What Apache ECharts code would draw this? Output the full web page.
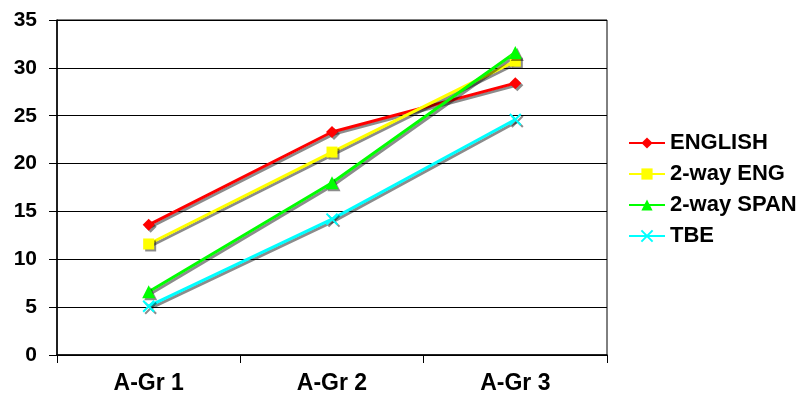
<!DOCTYPE html>
<html>
<head>
<meta charset="utf-8">
<script src="https://cdn.jsdelivr.net/npm/echarts@6/dist/echarts.min.js"></script>
<style>html,body{margin:0;padding:0;background:#fff}#c{width:809px;height:405px}</style>
</head>
<body>
<div id="c"></div>
<script>
var categories = ['A-Gr 1', 'A-Gr 2', 'A-Gr 3'];
var seriesNames = ['ENGLISH', '2-way ENG', '2-way SPAN', 'TBE'];
var english = [13.6, 23.3, 28.4];
var twoWayEng = [11.6, 21.2, 30.7];
var twoWaySpan = [6.6, 18.0, 31.6];
var tbe = [5.1, 14.2, 24.6];
var yTicks = [0, 5, 10, 15, 20, 25, 30, 35];

var FONT = '"Liberation Sans", Arial, sans-serif';
var shadow = {shadowColor: 'rgba(0,0,0,0.45)', shadowOffsetX: 2, shadowOffsetY: 2, shadowBlur: 0};
function mk(name, data, color, symbol, size) {
  return {
    name: name, type: 'line', data: data,
    symbol: symbol, symbolSize: size,
    lineStyle: Object.assign({color: color, width: 3}, shadow),
    itemStyle: Object.assign({color: color, borderColor: color, borderWidth: symbol.indexOf('path') === 0 ? 2 : 0}, shadow),
    emphasis: {disabled: true},
    animation: false
  };
}
var chart = echarts.init(document.getElementById('c'));
chart.setOption({
  animation: false,
  grid: {left: 57, right: 202, top: 20, bottom: 50, show: true, borderColor: '#000', borderWidth: 1, backgroundColor: 'transparent'},
  legend: {
    orient: 'vertical', left: 623, top: 127,
    itemWidth: 36, itemHeight: 14, itemGap: 9,
    textStyle: {fontFamily: FONT, fontWeight: 'bold', fontSize: 22, color: '#000', lineHeight: 22},
    data: seriesNames
  },
  xAxis: {
    type: 'category', data: categories, boundaryGap: true,
    axisLine: {lineStyle: {color: '#000', width: 1.5}},
    axisTick: {show: true, length: 8, lineStyle: {color: '#000'}, alignWithLabel: false},
    axisLabel: {fontFamily: FONT, fontWeight: 'bold', fontSize: 23, color: '#000', margin: 17},
    splitLine: {show: false}
  },
  yAxis: {
    type: 'value', min: yTicks[0], max: yTicks[yTicks.length - 1], interval: 5,
    axisLine: {show: true, lineStyle: {color: '#000', width: 1.5}},
    axisTick: {show: true, length: 8, lineStyle: {color: '#000'}},
    axisLabel: {fontFamily: FONT, fontWeight: 'bold', fontSize: 21, color: '#000', margin: 20},
    splitLine: {show: true, lineStyle: {color: '#000', width: 1}}
  },
  series: [
    mk(seriesNames[0], english, '#FF0000', 'diamond', 12),
    mk(seriesNames[1], twoWayEng, '#FFFF00', 'rect', 11),
    mk(seriesNames[2], twoWaySpan, '#00FF00', 'triangle', 13),
    mk(seriesNames[3], tbe, '#00FFFF', 'path://M0,0L10,10M10,0L0,10', 11)
  ]
});
</script>
</body>
</html>
